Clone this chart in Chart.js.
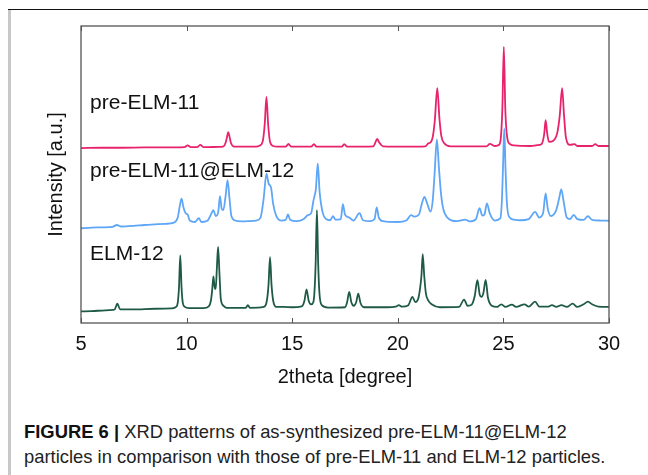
<!DOCTYPE html>
<html>
<head>
<meta charset="utf-8">
<script src="https://cdn.jsdelivr.net/npm/chart.js@4"></script>
<style>
  html, body { margin: 0; padding: 0; background: #fff; }
  #wrap { position: relative; width: 648px; height: 475px; overflow: hidden; font-family: "Liberation Sans", Arial, sans-serif; }
  #topline { position: absolute; left: 8px; top: 9px; width: 640px; height: 1px; background: #111; }
  #leftbar { position: absolute; left: 8px; top: 10px; width: 3px; height: 465px; background: #c8c8c8; }
  #cv { position: absolute; left: 0; top: 0; }
  .cap { position: absolute; left: 24px; font-size: 18.4px; color: #222; white-space: nowrap; line-height: 1; }
  .cap b { color: #111; }
</style>
</head>
<body>
<div id="wrap">
  <div id="topline"></div>
  <div id="leftbar"></div>
  <canvas id="cv" width="648" height="400"></canvas>
  <div class="cap" style="top:423px"><b>FIGURE 6 |</b> XRD patterns of as-synthesized pre-ELM-11@ELM-12</div>
  <div class="cap" style="top:448px">particles in comparison with those of pre-ELM-11 and ELM-12 particles.</div>
</div>
<script>
// ---- data (2theta in degree, intensity offset in a.u.) ----
const xTicks = [5, 10, 15, 20, 25, 30];
const seriesNames = ["pre-ELM-11", "pre-ELM-11@ELM-12", "ELM-12"];

const pre11 = [[5,58.9],[6,59.0],[7,59.0],[8,59.1],[9,59.1],[9.9,59.2],[10.05,59.8],[10.2,59.2],[10.5,59.2],[10.64,60.0],[10.8,59.2],[11.5,59.3],[11.75,59.5],[11.85,60.8],[11.91,62.5],[11.97,64.3],[12.04,62.5],[12.1,60.6],[12.25,59.4],[13.3,59.4],[13.45,59.7],[13.6,61],[13.7,67],[13.78,76.1],[13.86,67],[13.95,61],[14.1,59.6],[14.3,59.4],[14.7,59.4],[14.82,60.3],[14.95,59.4],[15.9,59.4],[16.03,60.2],[16.15,59.4],[17.35,59.4],[17.46,60.2],[17.6,59.4],[18.85,59.5],[18.95,61.0],[19.03,62.0],[19.12,60.8],[19.3,59.5],[20.5,59.4],[21.3,59.5],[21.45,60.5],[21.55,60.8],[21.65,62.5],[21.75,68],[21.87,79.1],[21.97,69],[22.06,63],[22.2,60.5],[22.5,59.5],[24.2,59.5],[24.36,60.3],[24.6,59.6],[24.8,60.0],[24.88,62.5],[24.95,72],[25.02,93.0],[25.09,72],[25.17,63],[25.3,60.3],[25.5,59.8],[26.3,59.6],[26.6,59.9],[26.8,60.2],[26.93,63.5],[27.0,68.3],[27.07,64],[27.16,61],[27.35,61.3],[27.55,64],[27.67,70],[27.78,79.1],[27.87,70],[27.96,62.5],[28.15,60],[28.37,60.2],[28.5,59.6],[29.2,59.6],[29.35,60.2],[29.5,59.6],[30,59.6]];

const mix = [[5,31.9],[5.5,32.1],[6,32.2],[6.5,32.4],[6.7,33.0],[6.9,32.5],[7.5,32.7],[8,33.0],[8.5,33.2],[9.0,33.4],[9.4,33.8],[9.58,35.5],[9.68,39.5],[9.76,41.9],[9.85,39],[9.95,37],[10.05,36.5],[10.15,34.5],[10.4,34],[10.58,35.3],[10.7,34],[11.0,34.5],[11.15,36.5],[11.27,38.0],[11.38,36.0],[11.5,37.5],[11.58,42.7],[11.66,38.5],[11.74,38],[11.85,43],[11.94,48.1],[12.03,42],[12.12,36],[12.3,34.5],[12.6,34.2],[13.0,34.3],[13.3,34.5],[13.5,35.5],[13.65,42],[13.78,50.3],[13.88,47],[14.0,45.5],[14.1,40],[14.25,36],[14.5,34.5],[14.7,34.8],[14.8,36.6],[14.9,34.8],[15.2,34.3],[15.55,35],[15.74,36.3],[15.9,37],[16.0,41],[16.05,42.6],[16.12,45],[16.21,53.7],[16.3,44],[16.45,37],[16.6,35],[16.8,34.6],[16.93,36],[17.05,34.8],[17.3,35],[17.4,40.0],[17.5,36.5],[17.7,35.5],[17.9,34.5],[18.19,37],[18.35,34.6],[18.7,34.3],[18.9,35],[19.0,38.9],[19.1,35.5],[19.3,34.3],[20.0,34.0],[20.4,34.5],[20.63,36.3],[20.8,35.8],[21.0,36.5],[21.15,40.5],[21.26,42.5],[21.4,40],[21.55,37.5],[21.65,41],[21.74,50],[21.85,61.8],[21.95,52],[22.04,44],[22.15,38.5],[22.35,35.5],[22.8,34.3],[23.2,34.8],[23.4,34.2],[23.7,35],[23.87,38.7],[24.0,36.2],[24.1,36.5],[24.22,40.3],[24.35,37],[24.6,34.5],[24.85,35.2],[24.92,40],[24.98,52],[25.04,65.5],[25.1,52],[25.17,40],[25.3,35.5],[25.5,34.8],[25.8,34.6],[26.2,35],[26.5,37.4],[26.7,35.5],[26.88,37],[27.0,43.6],[27.1,38.5],[27.25,36],[27.5,38],[27.64,42],[27.74,45],[27.85,41],[28.0,35.5],[28.15,35],[28.33,36.4],[28.5,35],[28.8,34.7],[29.0,36],[29.2,34.7],[29.6,34.5],[30,34.4]];

const elm12 = [[5,3.9],[5.5,4.0],[6,4.2],[6.5,4.4],[6.6,4.6],[6.72,6.5],[6.85,4.6],[7.5,4.6],[8.5,4.8],[9.3,4.9],[9.5,5.4],[9.58,6.8],[9.64,12],[9.7,22.8],[9.76,12],[9.82,6.8],[9.92,5.4],[10.1,5.0],[10.8,5.0],[11.05,5.6],[11.15,7.5],[11.21,11],[11.27,15.7],[11.34,11.5],[11.38,11.5],[11.43,18],[11.49,25.6],[11.56,16],[11.62,8],[11.75,5.8],[11.9,5.1],[12.8,5.1],[12.9,6.0],[13.0,5.1],[13.65,5.4],[13.8,7.5],[13.88,13],[13.95,22.2],[14.02,13],[14.1,7.5],[14.25,5.4],[14.6,5.4],[15.0,5.3],[15.45,5.6],[15.58,7.5],[15.68,11.3],[15.78,7.5],[15.9,6.3],[16.0,7],[16.05,10],[16.11,20],[16.17,38.0],[16.23,20],[16.29,10],[16.4,6],[16.7,5.2],[17.5,5.3],[17.6,7],[17.7,10.5],[17.8,7],[17.92,5.8],[18.03,7],[18.13,9.9],[18.23,6.8],[18.4,5.3],[19.5,5.3],[19.9,5.5],[20.05,6.0],[20.2,5.5],[20.5,6],[20.69,8.8],[20.83,7],[20.98,8.5],[21.06,12],[21.12,16],[21.18,23.2],[21.25,16],[21.33,10],[21.45,7.5],[21.6,6.3],[22,5.3],[22.9,5.4],[23.14,7.9],[23.3,5.8],[23.5,6.2],[23.64,9],[23.77,14.4],[23.88,9.5],[23.96,8.8],[24.05,10],[24.16,14.5],[24.27,8.5],[24.45,5.8],[24.7,5.4],[24.9,6.3],[25.1,5.4],[25.4,6.2],[25.6,5.4],[26.0,6.3],[26.2,5.5],[26.5,7.2],[26.7,5.5],[27.1,5.5],[27.3,6.0],[27.5,5.4],[27.75,6.0],[28.0,5.4],[28.28,6.5],[28.5,5.4],[28.8,6.3],[29.0,7.2],[29.2,6.3],[29.5,5.5],[30,5.4]];

// label anchors (2theta, intensity) for the series names
const nameAnchors = [[5.43, 74.0], [5.43, 51.0], [5.43, 23.0]];

const colors = ["#e8236c", "#5ea6f6", "#1f5a46"];
const toXY = arr => arr.map(p => ({x: p[0], y: p[1]}));
const FONT = '"Liberation Sans", Arial, sans-serif';

const framePlugin = {
  id: 'frame',
  afterDraw(chart) {
    const {ctx, chartArea: a, scales} = chart;
    ctx.save();
    ctx.strokeStyle = '#555';
    ctx.lineWidth = 1.3;
    ctx.strokeRect(a.left, a.top, a.right - a.left, a.bottom - a.top);
    ctx.lineWidth = 1;
    xTicks.forEach(v => {
      const px = Math.round(scales.x.getPixelForValue(v)) + 0.5;
      ctx.beginPath();
      ctx.moveTo(px, a.bottom); ctx.lineTo(px, a.bottom - 5);
      ctx.moveTo(px, a.top); ctx.lineTo(px, a.top + 5);
      ctx.stroke();
    });
    ctx.fillStyle = '#111';
    ctx.font = '21px ' + FONT;
    ctx.textBaseline = 'middle';
    seriesNames.forEach((n, i) => {
      ctx.fillText(n, scales.x.getPixelForValue(nameAnchors[i][0]), scales.y.getPixelForValue(nameAnchors[i][1]));
    });
    ctx.restore();
  }
};

new Chart(document.getElementById('cv'), {
  type: 'line',
  data: {
    datasets: [
      {label: seriesNames[0], data: toXY(pre11), borderColor: colors[0]},
      {label: seriesNames[1], data: toXY(mix), borderColor: colors[1]},
      {label: seriesNames[2], data: toXY(elm12), borderColor: colors[2]}
    ].map(d => Object.assign(d, {borderWidth: 1.8, pointRadius: 0, cubicInterpolationMode: 'monotone', fill: false}))
  },
  options: {
    responsive: false,
    animation: false,
    devicePixelRatio: 1,
    layout: {padding: {top: 26, right: 39, left: 0, bottom: 0}},
    plugins: {legend: {display: false}, tooltip: {enabled: false}},
    scales: {
      x: {
        type: 'linear', min: 5, max: 30,
        afterBuildTicks: s => { s.ticks = xTicks.map(v => ({value: v})); },
        afterFit: s => { s.height = 77; },
        grid: {display: false, drawTicks: false},
        border: {display: false},
        ticks: {color: '#111', font: {family: FONT, size: 20}, padding: 9, maxRotation: 0},
        title: {display: true, text: '2theta [degree]', color: '#111', font: {family: FONT, size: 20}, padding: {top: 0, bottom: 11}}
      },
      y: {
        type: 'linear', min: 0, max: 100,
        afterFit: s => { s.width = 81; },
        grid: {display: false, drawTicks: false},
        border: {display: false},
        ticks: {display: false},
        title: {display: true, text: 'Intensity [a.u.]', color: '#111', font: {family: FONT, size: 20}, padding: {top: 44, bottom: 0}}
      }
    }
  },
  plugins: [framePlugin]
});
</script>
</body>
</html>
